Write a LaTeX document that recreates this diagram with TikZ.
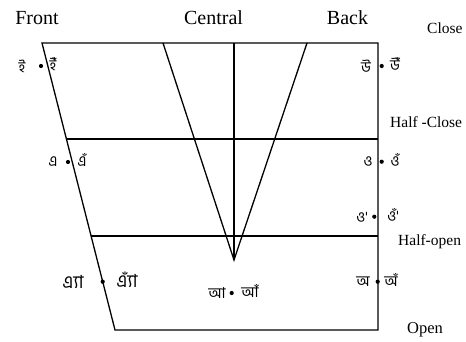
\documentclass[tikz,border=0pt]{standalone}
\usepackage{fontspec}
\setmainfont{Liberation Serif}
\newfontfamily\bn[Script=Bengali]{Hind Siliguri}
\begin{document}
\begin{tikzpicture}[x=1pt,y=-1pt,
  edge/.style={line width=1.3pt},
  head/.style={font=\fontsize{20}{24}\selectfont, anchor=base, inner sep=0pt},
  lvl/.style={font=\fontsize{15.5}{18}\selectfont, anchor=base west, inner sep=0pt},
  bv/.style={font=\bn\fontsize{15}{17}\selectfont, inner sep=0pt},
  bvl/.style={font=\bn\fontsize{18}{20}\selectfont, inner sep=0pt},
  dotmark/.style={circle, fill=black, inner sep=0pt, minimum size=4.2pt}]
\useasboundingbox (0,0) rectangle (466,342);
% corners
\coordinate (tl) at (42,43);
\coordinate (tr) at (378,43);
\coordinate (bl) at (115,330);
\coordinate (br) at (378,330);
\coordinate (hcl) at (66.4,139);
\coordinate (hcr) at (378,139);
\coordinate (hol) at (91.1,236);
\coordinate (hor) at (378,236);
\coordinate (va) at (163,43);
\coordinate (vb) at (234,43);
\coordinate (vc) at (307,43);
\coordinate (apex) at (234,260);
% headings
\node[head] (front) at (37,25) {Front};
\node[head] (central) at (213.5,25) {Central};
\node[head] (back) at (347.5,25) {Back};
\node[lvl] (close) at (427,33.3) {Close};
\node[lvl] (hclose) at (390,128) {Half -Close};
\node[lvl] (hopen) at (398,245) {Half-open};
\node[lvl, font=\fontsize{16.5}{19}\selectfont] (open) at (407,333) {Open};
% frame
\draw[edge] (tl) -- (tr) -- (br) -- (bl) -- cycle;
\draw[edge] (hcl) -- (hcr);
\draw[edge] (hol) -- (hor);
\draw[edge] (va) -- (apex) -- (vc);
\draw[edge] (vb) -- (apex);
% vowels
\node[bv] (i) at (22,66) {ই};
\node[dotmark] (di) at (41,66) {};
\node[bv] (in) at (53,64) {ইঁ};
\node[bv] (u) at (366,66) {উ};
\node[dotmark] (du) at (381.7,66) {};
\node[bv] (un) at (395,64) {উঁ};
\node[bv] (e) at (53,162) {এ};
\node[dotmark] (de) at (68,162) {};
\node[bv] (en) at (82,160) {এঁ};
\node[bv] (o) at (368,162) {ও};
\node[dotmark] (do) at (381.7,161.7) {};
\node[bv] (on) at (395,160) {ওঁ};
\node[bv] (o2) at (362,217) {ও'};
\node[dotmark] (do2) at (374.3,216.7) {};
\node[bv] (on2) at (393,215) {ওঁ'};
\node[bvl] (ae) at (73,282) {এ্যা};
\node[dotmark] (dae) at (102.7,281.7) {};
\node[bvl] (aen) at (127,280) {এ্যাঁ};
\node[bv] (a) at (363,282) {অ};
\node[dotmark] (da) at (377.7,281.7) {};
\node[bv] (an) at (391,280) {অঁ};
\node[bv] (aa) at (217,293) {আ};
\node[dotmark] (daa) at (231.7,293) {};
\node[bv] (aan) at (250,291) {আঁ};
\end{tikzpicture}
\end{document}
